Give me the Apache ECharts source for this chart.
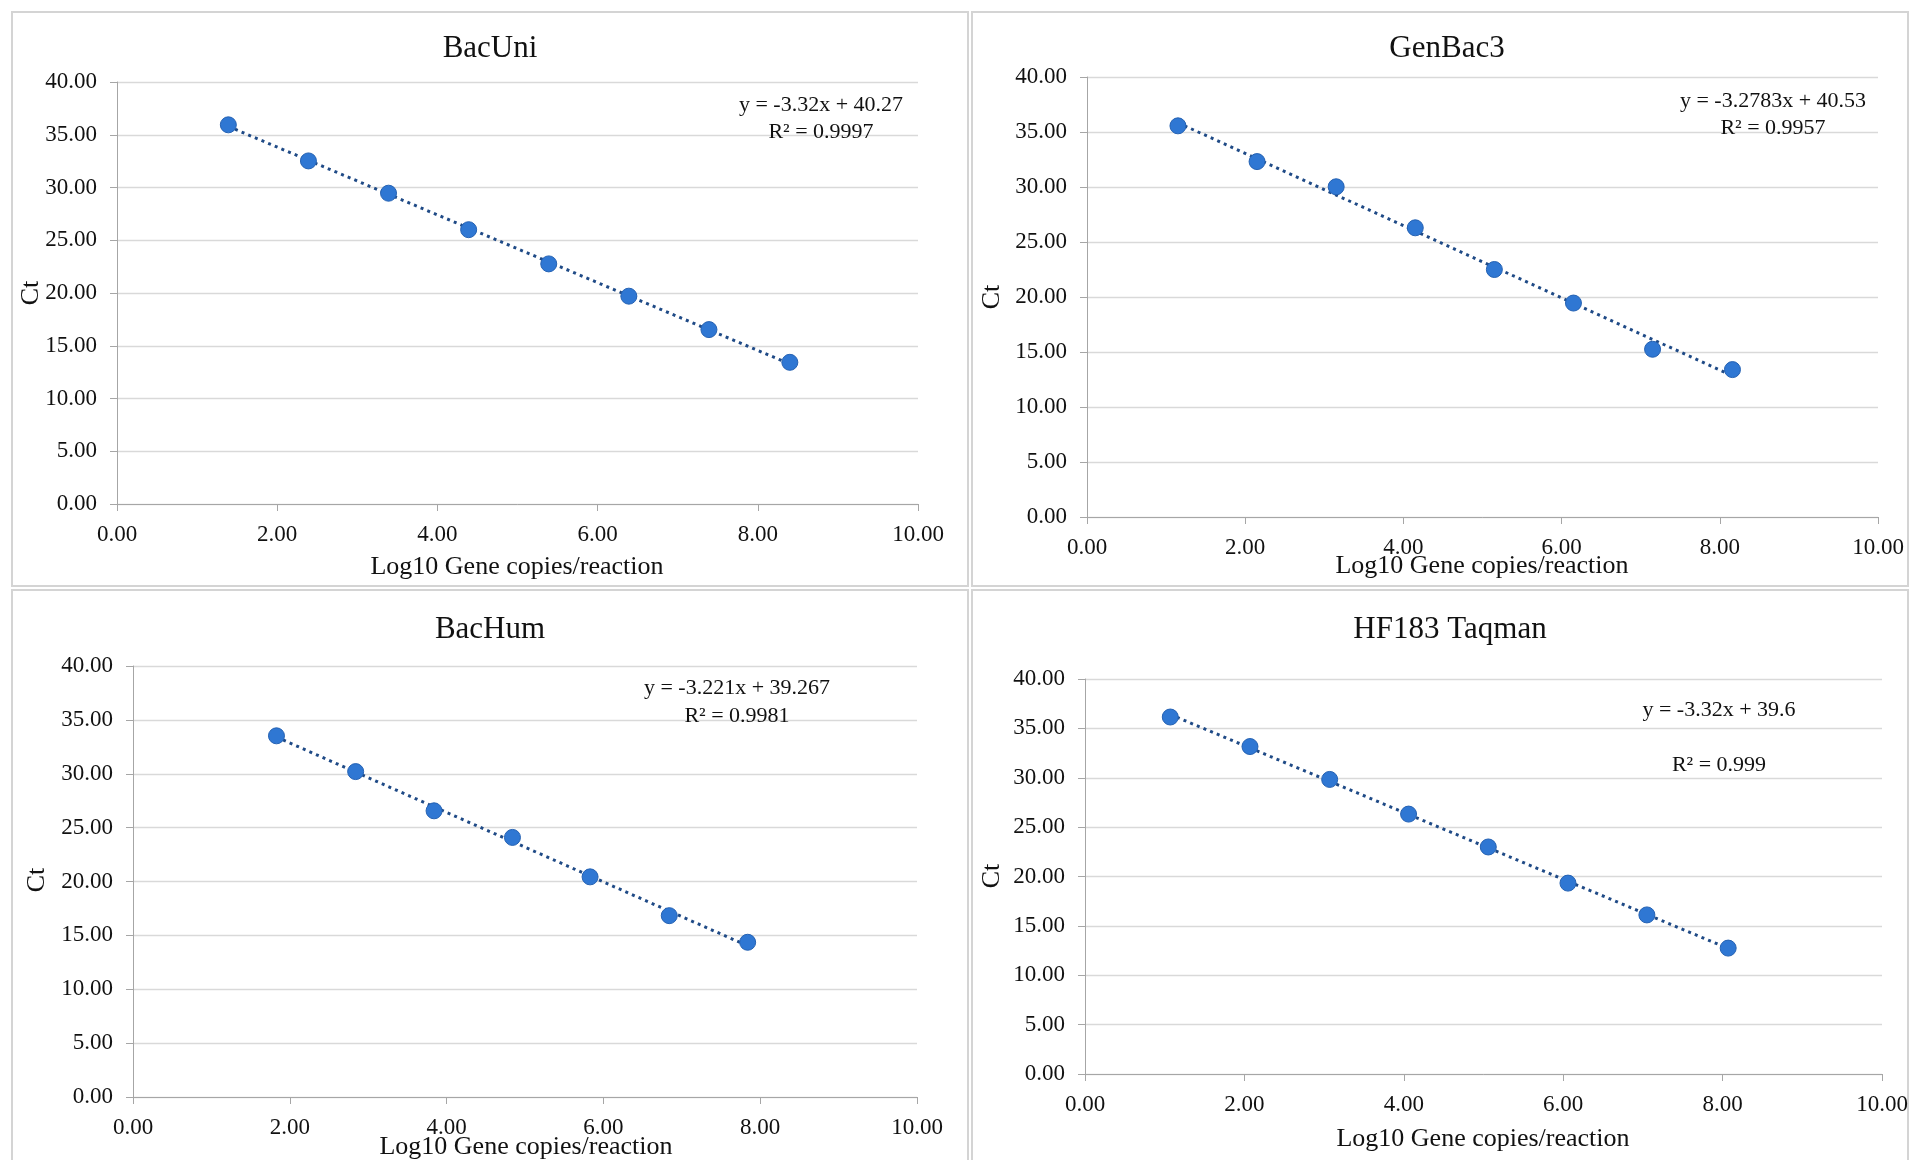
<!DOCTYPE html>
<html><head><meta charset="utf-8">
<script src="https://cdn.jsdelivr.net/npm/echarts@6/dist/echarts.min.js"></script>
<style>html,body{margin:0;padding:0;background:#fff}#c{width:1914px;height:1160px}</style>
</head><body><div id="c"></div>
<script>
// ---- data ----
const titles = ['BacUni', 'GenBac3', 'BacHum', 'HF183 Taqman'];
const equations = ['y = -3.32x + 40.27', 'y = -3.2783x + 40.53', 'y = -3.221x + 39.267', 'y = -3.32x + 39.6'];
const r2Labels = ['R\u00b2 = 0.9997', 'R\u00b2 = 0.9957', 'R\u00b2 = 0.9981', 'R\u00b2 = 0.999'];
const xAxisName = 'Log10 Gene copies/reaction';
const yAxisName = 'Ct';

const bacUniX = [1.39, 2.39, 3.39, 4.39, 5.39, 6.39, 7.39, 8.40];
const bacUniY = [35.94, 32.52, 29.46, 26.00, 22.76, 19.70, 16.53, 13.43];
const genBacX = [1.15, 2.15, 3.15, 4.15, 5.15, 6.15, 7.15, 8.16];
const genBacY = [35.56, 32.31, 30.02, 26.29, 22.50, 19.45, 15.25, 13.40];
const bacHumX = [1.83, 2.84, 3.84, 4.84, 5.83, 6.84, 7.84];
const bacHumY = [33.52, 30.20, 26.56, 24.09, 20.43, 16.83, 14.36];
const hf183X = [1.07, 2.07, 3.07, 4.06, 5.06, 6.06, 7.05, 8.07];
const hf183Y = [36.15, 33.16, 29.83, 26.32, 22.99, 19.33, 16.11, 12.75];

const xMin = 0, xMax = 10, xStep = 2;
const yMin = 0, yMax = 40, yStep = 5;

// ---- layout ----
const panels = [
  {xs: bacUniX, ys: bacUniY, grid: {left: 117, top: 82, width: 801, height: 422},
   border: [12, 12, 956, 574], title: [490, 49], eq: [821, 105], r2: [821, 132], xname: [517, 567], yname: [31, 293]},
  {xs: genBacX, ys: genBacY, grid: {left: 1087, top: 77, width: 791, height: 440},
   border: [972, 12, 936, 574], title: [1447, 49], eq: [1773, 101], r2: [1773, 128], xname: [1482, 566], yname: [992, 297]},
  {xs: bacHumX, ys: bacHumY, grid: {left: 133, top: 666, width: 784, height: 431},
   border: [12, 590, 956, 600], title: [490, 630], eq: [737, 688], r2: [737, 716], xname: [526, 1147], yname: [37, 880]},
  {xs: hf183X, ys: hf183Y, grid: {left: 1085, top: 679, width: 797, height: 395},
   border: [972, 590, 936, 600], title: [1450, 630], eq: [1719, 710], r2: [1719, 765], xname: [1483, 1139], yname: [992, 876]}
];

const FONT = 'Liberation Serif';
const axisGray = '#a6a6a6';
const gridGray = '#d9d9d9';

function trend(xs, ys) {
  const n = xs.length;
  let sx = 0, sy = 0, sxx = 0, sxy = 0;
  for (let i = 0; i < n; i++) { sx += xs[i]; sy += ys[i]; sxx += xs[i] * xs[i]; sxy += xs[i] * ys[i]; }
  const b = (n * sxy - sx * sy) / (n * sxx - sx * sx);
  const a = (sy - b * sx) / n;
  const x0 = Math.min(...xs), x1 = Math.max(...xs);
  return [[x0, a + b * x0], [x1, a + b * x1]];
}

const grid = [], xAxis = [], yAxis = [], series = [], graphic = [];
panels.forEach((p, i) => {
  grid.push(Object.assign({containLabel: false}, p.grid));
  xAxis.push({
    type: 'value', gridIndex: i, min: xMin, max: xMax, interval: xStep,
    axisLine: {show: true, onZero: false, lineStyle: {color: axisGray, width: 1}},
    axisTick: {show: true, length: 7, inside: false, lineStyle: {color: axisGray}},
    axisLabel: {margin: 19, fontFamily: FONT, fontSize: 23, color: '#111', formatter: v => v.toFixed(2)},
    splitLine: {show: false}
  });
  yAxis.push({
    type: 'value', gridIndex: i, min: yMin, max: yMax, interval: yStep,
    axisLine: {show: true, lineStyle: {color: axisGray, width: 1}},
    axisTick: {show: true, length: 7, inside: false, lineStyle: {color: axisGray}},
    axisLabel: {margin: 20, fontFamily: FONT, fontSize: 23, color: '#111', formatter: v => v.toFixed(2)},
    splitLine: {show: true, lineStyle: {color: gridGray, width: 1.3}}
  });
  series.push({
    type: 'line', xAxisIndex: i, yAxisIndex: i, data: trend(p.xs, p.ys),
    symbol: 'none', silent: true, z: 2,
    lineStyle: {color: '#1f4a86', width: 3, type: [3, 4.2], cap: 'butt'}
  });
  series.push({
    type: 'scatter', xAxisIndex: i, yAxisIndex: i,
    data: p.xs.map((x, k) => [x, p.ys[k]]),
    symbol: 'circle', symbolSize: 16, z: 3,
    itemStyle: {color: '#2f77d3', borderColor: '#2562b3', borderWidth: 1, opacity: 1}
  });
  graphic.push({
    type: 'rect', shape: {x: p.border[0], y: p.border[1], width: p.border[2], height: p.border[3]},
    style: {fill: null, stroke: '#d4d4d4', lineWidth: 2}, silent: true, z: 0
  });
  const txt = (text, pos, size, extra) => Object.assign({
    type: 'text', x: pos[0], y: pos[1], silent: true, z: 10,
    style: {text: text, fontFamily: FONT, fontSize: size, fill: '#111', align: 'center', verticalAlign: 'middle'}
  }, extra || {});
  graphic.push(txt(titles[i], p.title, 31));
  graphic.push(txt(equations[i], p.eq, 22));
  graphic.push(txt(r2Labels[i], p.r2, 22));
  graphic.push(txt(xAxisName, p.xname, 26));
  graphic.push(txt(yAxisName, p.yname, 26, {rotation: Math.PI / 2}));
});

const chart = echarts.init(document.getElementById('c'), null, {renderer: 'canvas'});
chart.setOption({
  backgroundColor: '#ffffff',
  animation: false,
  textStyle: {fontFamily: FONT},
  grid, xAxis, yAxis, series, graphic
});
</script>
</body></html>
